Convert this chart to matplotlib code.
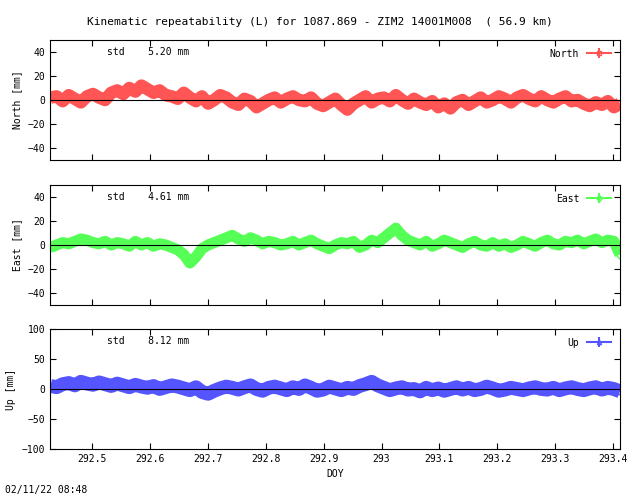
import matplotlib
matplotlib.use("Agg")
import matplotlib.pyplot as plt
import numpy as np

title = "Kinematic repeatability (L) for 1087.869 - ZIM2 14001M008  ( 56.9 km)"
stamp = "02/11/22 08:48"
xlabel = "DOY"
doy_start = 292.428
doy_end = 293.412
north = [2,3,-1,4,1,-2,3,5,2,0,6,8,5,10,7,12,9,6,8,4,3,1,6,2,-1,3,-3,0,4,2,
         -2,-4,1,-1,-6,-3,0,2,-2,1,3,0,-1,2,-3,-5,-2,1,-4,-8,-3,0,3,-2,1,2,-1,4,0,-3,
         1,-2,-4,-1,-6,-3,-7,-2,0,-4,-1,2,-2,0,3,1,-2,2,4,1,-1,3,0,-2,1,3,-1,0,-3,-5,
         -2,-4,-1,-6,-3]
east = [-2,0,2,1,3,5,4,2,1,3,0,2,1,-1,3,0,2,-1,1,0,-2,-4,-8,-15,-10,-3,0,2,4,6,
        8,5,3,6,4,1,3,2,0,1,3,0,2,4,1,-1,-3,0,2,1,3,-2,0,4,2,6,10,14,8,4,
        2,0,3,-1,1,4,2,0,-2,1,3,0,-1,2,-1,1,-2,0,3,1,-1,2,4,1,0,3,2,4,1,3,
        5,2,4,3,-8]
up = [5,3,8,10,6,12,9,7,11,8,5,9,6,3,7,4,2,5,0,3,6,4,1,-2,3,-5,-8,-3,1,4,
      2,-1,3,6,0,-3,2,4,1,-2,3,0,6,2,-3,-1,4,1,-2,2,0,5,8,12,6,2,-2,1,3,-1,
      0,-4,2,-2,1,-3,0,3,-1,2,-2,0,4,1,-3,-1,2,0,-2,1,3,0,-1,2,-2,1,3,0,-2,1,
      3,-1,2,0,-4]
std_vals = ["5.20", "4.61", "8.12"]
names = ["North", "East", "Up"]
ylabels = ["North [mm]", "East [mm]", "Up [mm]"]
colors = ["#ff5555", "#55ff55", "#5555ff"]
markers = ["s", "D", "^"]
ylims = [(-50, 50), (-50, 50), (-100, 100)]
yticks = [[-40, -20, 0, 20, 40], [-40, -20, 0, 20, 40], [-100, -50, 0, 50, 100]]
xticks = [292.5, 292.6, 292.7, 292.8, 292.9, 293.0, 293.1, 293.2, 293.3, 293.4]
xticklabels = ["292.5", "292.6", "292.7", "292.8", "292.9", "293", "293.1", "293.2", "293.3", "293.4"]
bandw = [9, 8, 10]

plt.rcParams["font.family"] = "DejaVu Sans Mono"
plt.rcParams["font.size"] = 7
fig = plt.figure(figsize=(6.4, 4.96), dpi=100)
W, H = 640, 496
boxes = [(50, 40, 620, 160), (50, 185, 620, 305), (50, 329, 620, 449)]
series = [north, east, up]
for i in range(3):
    x0, y0, x1, y1 = boxes[i]
    ax = fig.add_axes([x0 / W, 1 - y1 / H, (x1 - x0) / W, (y1 - y0) / H])
    vals = np.array(series[i], dtype=float)
    x = np.linspace(doy_start, doy_end, len(vals))
    ax.axhline(0, color="black", lw=0.8, zorder=3)
    ax.plot(x, vals, color=colors[i], lw=bandw[i], solid_capstyle="butt")
    ax.errorbar(x, vals, yerr=3 if i < 2 else 6, ls="none", marker=markers[i], ms=4,
                mfc="none", mec=colors[i], color=colors[i], mew=1.0, elinewidth=0.8)
    ax.set_xlim(292.427, 293.412)
    ax.set_ylim(*ylims[i])
    ax.set_yticks(yticks[i])
    ax.set_xticks(xticks)
    ax.set_xticklabels(xticklabels if i == 2 else [])
    ax.tick_params(direction="in", length=4, top=True, right=True)
    ax.set_ylabel(ylabels[i])
    ax.text(0.1, 0.9, "std    %s mm" % std_vals[i], transform=ax.transAxes, va="center")
    h = ax.errorbar([], [], yerr=[], color=colors[i], marker=markers[i], mfc="none", ms=3, capsize=2)
    ax.legend([h], [names[i]], loc="upper right", frameon=False, markerfirst=False, handlelength=2.5)
    if i == 2:
        ax.set_xlabel(xlabel)
fig.text(0.5, 1 - 22 / H, title, ha="center", va="center", fontsize=8)
fig.text(5 / W, 1 - 490 / H, stamp, va="center")
fig.savefig("out.png", dpi=100)
